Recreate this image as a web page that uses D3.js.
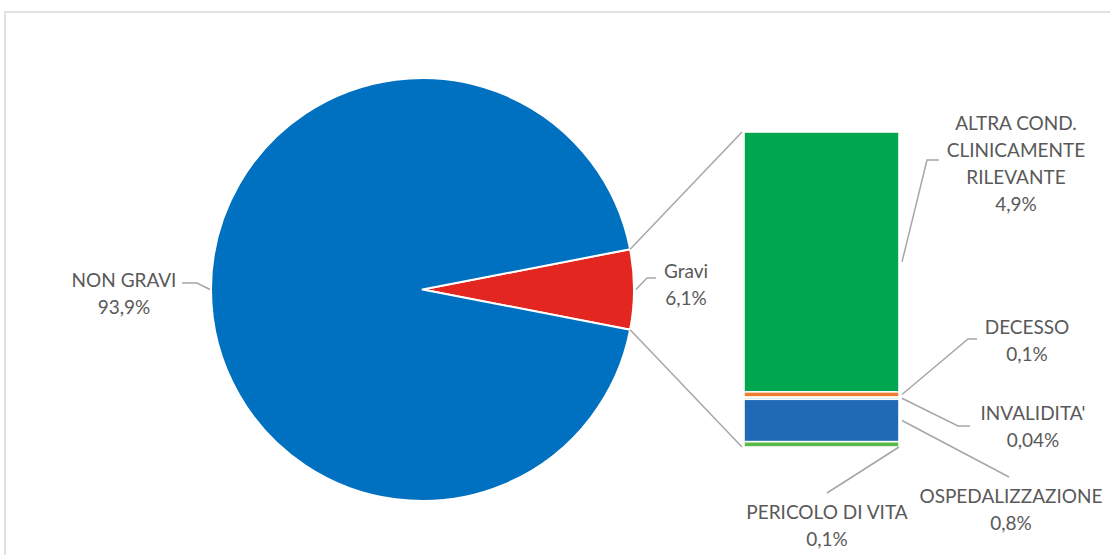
<!DOCTYPE html>
<html><head><meta charset="utf-8">
<script src="https://cdn.jsdelivr.net/npm/d3@7"></script>
<style>
html,body{margin:0;padding:0;background:#fff;}
svg{display:block;}
text{font-family:Lato,"Open Sans",sans-serif;fill:#595959;}
</style></head>
<body>
<svg id="chart" width="1110" height="555"></svg>
<script>
// ---- data ----
const pieCategories = ["Gravi", "NON GRAVI"];
const pieValues = [6.1, 93.9];
const pieColors = ["#E3261F", "#0070C0"];

const barCategories = ["ALTRA COND. CLINICAMENTE RILEVANTE", "DECESSO", "INVALIDITA'", "OSPEDALIZZAZIONE", "PERICOLO DI VITA"];
const barValues = [4.9, 0.1, 0.04, 0.8, 0.1];
const barLabelLines = [["ALTRA COND.", "CLINICAMENTE", "RILEVANTE"], ["DECESSO"], ["INVALIDITA'"], ["OSPEDALIZZAZIONE"], ["PERICOLO DI VITA"]];
const barColors = ["#00A650", "#EF7D2E", "#A5A5A5", "#1F69B5", "#58B947"];

const fmt = v => String(v).replace(".", ",") + "%";

// ---- layout ----
const svg = d3.select("#chart");
const W = 1110, H = 555;
const cx = 422.5, cy = 289.5, R = 211.5;
const bar = {x0: 744, x1: 899, y0: 132, y1: 447};
const lineGap = 27;
const fontSize = 19;

// border
svg.append("path").attr("d", `M5,${H} L5,12 L${W},12`).attr("fill", "none")
  .attr("stroke", "#d9d9d9").attr("stroke-width", 1.5);

// pie
const gravShare = pieValues[0] / d3.sum(pieValues);
const start = Math.PI / 2 - gravShare * Math.PI;
const pie = d3.pie().sort(null).startAngle(start).endAngle(start + 2 * Math.PI);
const arcs = pie(pieValues);
const arc = d3.arc().innerRadius(0).outerRadius(R);
const g = svg.append("g").attr("transform", `translate(${cx},${cy})`);
g.selectAll("path").data(arcs).join("path")
  .attr("d", arc).attr("fill", (d, i) => pieColors[i])
  .attr("stroke", "#fff").attr("stroke-width", 2).attr("stroke-linejoin", "round");

const pt = (a, r = R) => [cx + r * Math.sin(a), cy - r * Math.cos(a)];

// bar (stacked)
const y = d3.scaleLinear().domain([0, d3.sum(barValues)]).range([bar.y0, bar.y1]);
const cum = d3.cumsum(barValues);
const segs = barValues.map((v, i) => ({v, i, a: cum[i] - v, b: cum[i]}));
svg.append("g").selectAll("rect").data(segs).join("rect")
  .attr("x", bar.x0).attr("width", bar.x1 - bar.x0)
  .attr("y", d => y(d.a)).attr("height", d => Math.max(0.6, y(d.b) - y(d.a)))
  .attr("fill", d => barColors[d.i])
  .attr("stroke", "#fff").attr("stroke-width", 1.6);

// connector lines pie -> bar
const pTop = pt(arcs[0].startAngle), pBot = pt(arcs[0].endAngle);
const conn = "#a6a6a6";
svg.append("line").attr("x1", pTop[0]).attr("y1", pTop[1]).attr("x2", bar.x0 - 2).attr("y2", y(0))
  .attr("stroke", conn).attr("stroke-width", 1.5);
svg.append("line").attr("x1", pBot[0]).attr("y1", pBot[1]).attr("x2", bar.x0 - 2).attr("y2", y(d3.sum(barValues)))
  .attr("stroke", conn).attr("stroke-width", 1.5);

// labels
function label(lines, x, y0) {
  const t = svg.append("text").attr("text-anchor", "middle").attr("font-size", fontSize);
  lines.forEach((s, k) => t.append("tspan").attr("x", x).attr("y", y0 + k * lineGap).attr("dy", "0.35em").text(s));
}
function leader(points) {
  svg.append("path").attr("d", d3.line()(points)).attr("fill", "none")
    .attr("stroke", conn).attr("stroke-width", 1.5);
}

// pie labels
const aNon = (arcs[1].startAngle + arcs[1].endAngle) / 2;
const aGrav = (arcs[0].startAngle + arcs[0].endAngle) / 2;
label([pieCategories[1], fmt(pieValues[1])], 124, 280);
leader([[182, 283], [197, 283], pt(aNon, R + 1)]);
label([pieCategories[0], fmt(pieValues[0])], 686, 271);
leader([pt(aGrav, R + 2), [647, 278], [656, 278]]);

// bar labels
const segMid = i => y((segs[i].a + segs[i].b) / 2);
const barLabelPos = [[1016, 123], [1027, 327], [1033, 413], [1011, 496], [827, 512]];
const leaderBends = [
  [[927, 160], [939, 160]],
  [[968, 339], [977, 339]],
  [[958, 426], [970, 426]],
  [[1009, 477]],
  [[827, 493]]
];
segs.forEach((d, i) => {
  const lines = barLabelLines[i].concat([fmt(d.v)]);
  label(lines, barLabelPos[i][0], barLabelPos[i][1]);
  const startX = i === 4 ? bar.x1 : bar.x1 + 3;
  const startY = i === 4 ? y(d.b) : segMid(i);
  leader([[startX, startY]].concat(leaderBends[i]));
});
</script>
</body></html>
